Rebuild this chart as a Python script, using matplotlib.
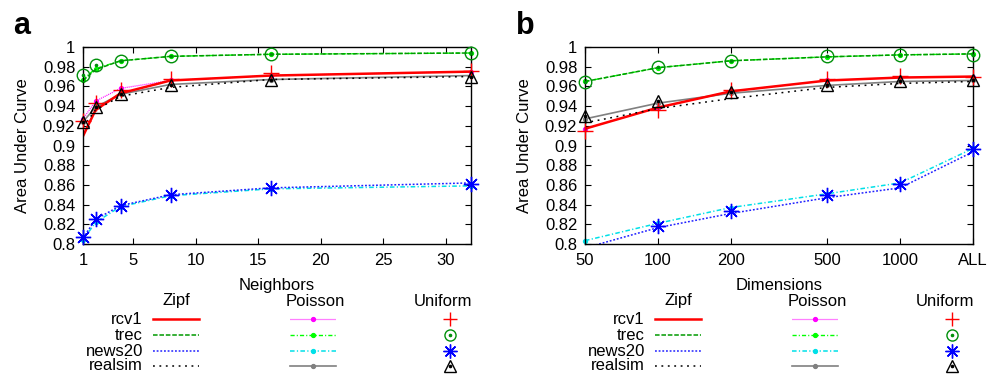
import matplotlib

matplotlib.use("Agg")
import matplotlib.pyplot as plt
import numpy as np
from matplotlib.lines import Line2D

plt.rcParams["font.family"] = ["Liberation Sans", "DejaVu Sans"]
plt.rcParams["font.size"] = 12

# panel a: number of neighbors
neighbors = [1, 2, 4, 8, 16, 32]
a_zipf = {
    "rcv1": [0.9095, 0.936, 0.953, 0.966, 0.971, 0.975],
    "trec": [0.966, 0.977, 0.986, 0.9905, 0.9926, 0.9939],
    "news20": [0.806, 0.825, 0.839, 0.850, 0.857, 0.862],
    "realsim": [0.919, 0.936, 0.950, 0.959, 0.967, 0.970],
}
a_poisson = {
    "rcv1": [0.927, 0.945, 0.958, 0.966, 0.971, 0.975],
    "trec": [0.967, 0.978, 0.986, 0.9905, 0.9926, 0.9939],
    "news20": [0.804, 0.822, 0.838, 0.849, 0.856, 0.859],
    "realsim": [0.924, 0.939, 0.952, 0.962, 0.967, 0.971],
}
a_uniform = {
    "rcv1": [0.925, 0.943, 0.956, 0.968, 0.9735, 0.976],
    "trec": [0.9716, 0.9814, 0.9858, 0.9905, 0.9926, 0.9939],
    "news20": [0.807, 0.825, 0.839, 0.850, 0.857, 0.8605],
    "realsim": [0.924, 0.939, 0.952, 0.961, 0.967, 0.970],
}

# panel b: dimensions ("ALL" drawn at 2000 on the log axis)
dimensions = [50, 100, 200, 500, 1000, 2000]
dim_labels = ["50", "100", "200", "500", "1000", "ALL"]
b_zipf = {
    "rcv1": [0.917, 0.9385, 0.955, 0.966, 0.969, 0.970],
    "trec": [0.965, 0.979, 0.986, 0.990, 0.992, 0.993],
    "news20": [0.796, 0.8166, 0.831, 0.847, 0.857, 0.8936],
    "realsim": [0.923, 0.9375, 0.9476, 0.959, 0.963, 0.965],
}
b_poisson = {
    "rcv1": [0.917, 0.9385, 0.955, 0.966, 0.969, 0.970],
    "trec": [0.965, 0.979, 0.986, 0.990, 0.992, 0.993],
    "news20": [0.8034, 0.821, 0.837, 0.851, 0.862, 0.897],
    "realsim": [0.927, 0.943, 0.953, 0.961, 0.965, 0.966],
}
b_uniform = {
    "rcv1": [0.9145, 0.936, 0.956, 0.968, 0.971, 0.970],
    "trec": [0.9645, 0.980, 0.9858, 0.9905, 0.992, 0.992],
    "news20": [0.798, 0.818, 0.834, 0.850, 0.8605, 0.896],
    "realsim": [0.930, 0.945, 0.954, 0.961, 0.965, 0.967],
}

DATASETS = ["rcv1", "trec", "news20", "realsim"]
Y_MIN, Y_MAX = 0.8, 1.0
FS = 12

ZIPF_STYLE = {
    "rcv1": dict(color="#ff0000", lw=1.8, ls="-"),
    "trec": dict(color="#009a00", lw=1.1, ls=(0, (3.0, 1.2))),
    "news20": dict(color="#2020ff", lw=1.1, ls=(0, (1.2, 1.2))),
    "realsim": dict(color="#000000", lw=1.1, ls=(0, (1.2, 3.0))),
}
POISSON_STYLE = {
    "rcv1": dict(color="#ff00ff", lw=0.9, ls=(0, (0.8, 0.8))),
    "trec": dict(color="#00ff00", lw=1.0, ls=(0, (3.0, 1.5, 0.8, 1.5))),
    "news20": dict(color="#00e0e8", lw=1.1, ls=(0, (3.0, 1.5, 0.8, 1.5))),
    "realsim": dict(color="#808080", lw=1.2, ls="-"),
}
UNIFORM_STYLE = {
    "rcv1": dict(marker="+", color="#ff0000", ms=11, mew=1.0, dot=False),
    "trec": dict(marker="o", color="#00900a", ms=9, mew=1.0, dot=True),
    "news20": dict(marker=(8, 2, 0), color="#0000ff", ms=11, mew=1.0, dot=False),
    "realsim": dict(marker="^", color="#000000", ms=9, mew=1.0, dot=True),
}


def in_range(values):
    arr = np.array(values, dtype=float)
    return np.where((arr >= Y_MIN - 1e-9) & (arr <= Y_MAX + 1e-9), arr, np.nan)


def draw_panel(ax, x, zipf, poisson, uniform):
    for name in DATASETS:
        st = POISSON_STYLE[name]
        ax.plot(x, poisson[name], color=st["color"], lw=st["lw"], ls=st["ls"])
        ax.plot(x, in_range(poisson[name]), ls="none", marker="o", ms=2.8,
                color=st["color"], clip_on=False)
    for name in DATASETS:
        st = ZIPF_STYLE[name]
        ax.plot(x, zipf[name], color=st["color"], lw=st["lw"], ls=st["ls"])
    for name in DATASETS:
        st = UNIFORM_STYLE[name]
        yv = in_range(uniform[name])
        ax.plot(x, yv, ls="none", marker=st["marker"], ms=st["ms"], mew=st["mew"],
                mfc="none", mec=st["color"], clip_on=False, zorder=5)
        if st["dot"]:
            ax.plot(x, yv, ls="none", marker="o", ms=1.6, color=st["color"],
                    clip_on=False, zorder=5)

    ax.set_ylim(Y_MIN, Y_MAX)
    yt = np.round(np.arange(0.8, 1.0001, 0.02), 2)
    ax.set_yticks(yt)
    ax.set_yticklabels([f"{v:g}" for v in yt])
    ax.tick_params(direction="in", top=True, right=True, length=4.5, width=0.8,
                   labelsize=FS)
    ax.tick_params(axis="x", pad=6.5)
    ax.tick_params(axis="y", pad=5.5)
    ax.tick_params(which="minor", length=0)
    for sp in ax.spines.values():
        sp.set_linewidth(1.0)
    ax.set_ylabel("Area Under Curve", fontsize=FS)
    ax.yaxis.set_label_coords(-0.137, 0.5)


def draw_legend(fig, x0):
    # legend block laid out in pixel units of the figure
    lax = fig.add_axes([x0 / 998, 0, 499 / 998, 90 / 375])
    lax.set_xlim(0, 499)
    lax.set_ylim(375, 285)
    lax.axis("off")
    rows = [319, 335, 351, 366]
    lax.text(176, 301, "Zipf", ha="center", va="center", fontsize=FS)
    lax.text(315, 301, "Poisson", ha="center", va="center", fontsize=FS)
    lax.text(443, 301, "Uniform", ha="center", va="center", fontsize=FS)
    for name, yr in zip(DATASETS, rows):
        lax.text(143, yr, name, ha="right", va="center", fontsize=FS)
        st = ZIPF_STYLE[name]
        lax.add_line(Line2D([153, 199], [yr, yr], color=st["color"], lw=st["lw"], ls=st["ls"]))
        st = POISSON_STYLE[name]
        lax.add_line(Line2D([290, 336], [yr, yr], color=st["color"], lw=st["lw"], ls=st["ls"]))
        lax.add_line(Line2D([313], [yr], ls="none", marker="o", ms=2.8, color=st["color"]))
        st = UNIFORM_STYLE[name]
        lax.add_line(Line2D([450], [yr], ls="none", marker=st["marker"], ms=st["ms"] - 1,
                            mew=st["mew"], mfc="none", mec=st["color"]))
        if st["dot"]:
            lax.add_line(Line2D([450], [yr], ls="none", marker="o", ms=1.6, color=st["color"]))


fig = plt.figure(figsize=(9.98, 3.75), dpi=100)

ax_a = fig.add_axes([83 / 998, 1 - 244 / 375, 388 / 998, 197 / 375])
draw_panel(ax_a, neighbors, a_zipf, a_poisson, a_uniform)
ax_a.set_xlim(1, 32)
ax_a.set_xticks([1, 5, 10, 15, 20, 25, 30])
ax_a.set_xlabel("Neighbors", fontsize=FS)
ax_a.xaxis.set_label_coords(0.5, -0.175)

ax_b = fig.add_axes([585 / 998, 1 - 244 / 375, 388 / 998, 197 / 375])
draw_panel(ax_b, dimensions, b_zipf, b_poisson, b_uniform)
ax_b.set_xscale("log")
ax_b.set_xlim(50, 2000)
ax_b.set_xticks(dimensions)
ax_b.set_xticklabels(dim_labels)
ax_b.minorticks_off()
ax_b.set_xlabel("Dimensions", fontsize=FS)
ax_b.xaxis.set_label_coords(0.5, -0.175)

draw_legend(fig, 0)
draw_legend(fig, 502)

fig.text(13 / 998, 1 - 34 / 375, "a", fontsize=22, fontweight="bold", va="baseline")
fig.text(516 / 998, 1 - 34 / 375, "b", fontsize=22, fontweight="bold", va="baseline")

fig.savefig("out.png", dpi=100)
